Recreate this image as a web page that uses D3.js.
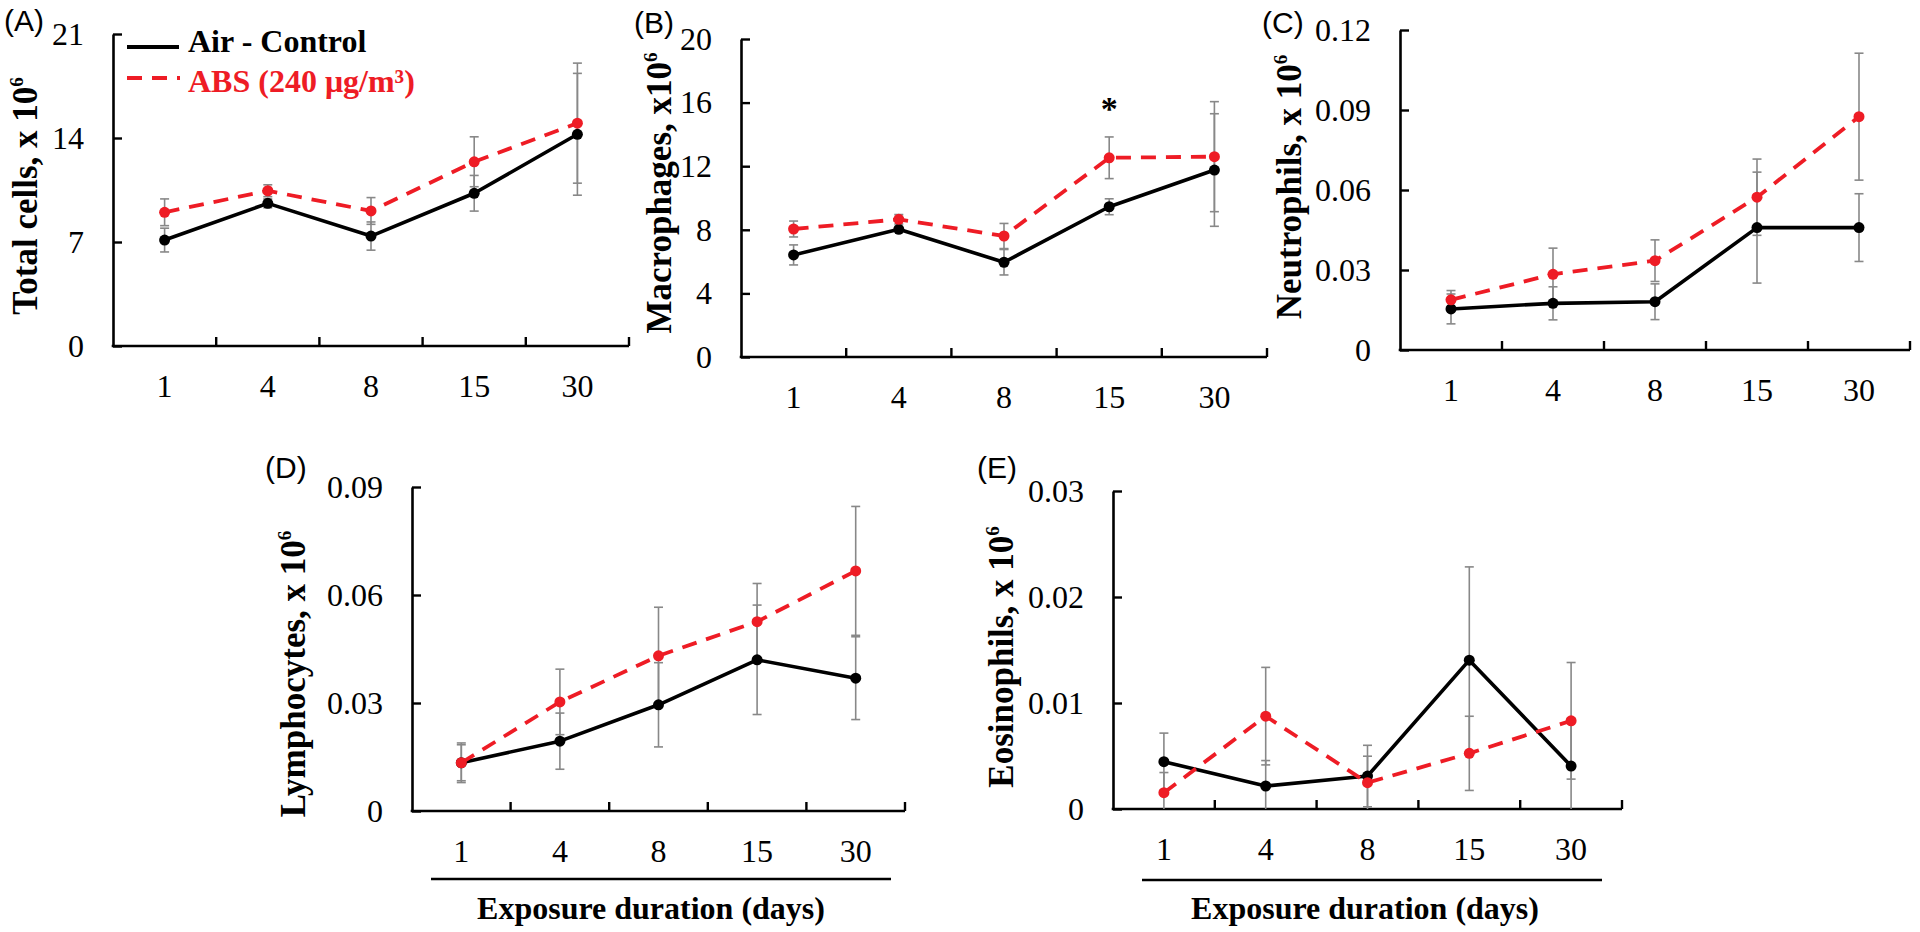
<!DOCTYPE html>
<html>
<head>
<meta charset="utf-8">
<script src="https://cdn.jsdelivr.net/npm/d3@7/dist/d3.min.js"></script>
<style>
  html, body { margin: 0; padding: 0; background: #fff; }
  svg { display: block; }
  .serif { font-family: 'Liberation Serif', 'Times New Roman', serif; }
  .sans { font-family: 'Liberation Sans', Arial, sans-serif; }
</style>
</head>
<body>
<svg id="chart" width="1920" height="932"></svg>
<script>
// ---------------- DATA ----------------
const categories = ["1", "4", "8", "15", "30"];
const seriesNames = ["Air - Control", "ABS (240 μg/m³)"];

const totalAir    = [7.13, 9.6, 7.4, 10.28, 14.25];
const totalAirErr = [0.8, 0.3, 0.95, 1.2, 4.1];
const totalAbs    = [9.0, 10.45, 9.09, 12.4, 15.0];
const totalAbsErr = [0.9, 0.4, 0.9, 1.68, 4.04];
const totalTicks  = [0, 7, 14, 21];

const macroAir    = [6.42, 8.03, 5.96, 9.45, 11.76];
const macroAirErr = [0.63, 0.15, 0.8, 0.5, 3.54];
const macroAbs    = [8.05, 8.66, 7.61, 12.53, 12.6];
const macroAbsErr = [0.5, 0.3, 0.79, 1.31, 3.46];
const macroTicks  = [0, 4, 8, 12, 16, 20];

const neutAir    = [0.0154, 0.0175, 0.0181, 0.0459, 0.0459];
const neutAirErr = [0.0056, 0.0062, 0.0067, 0.0208, 0.0127];
const neutAbs    = [0.0188, 0.0284, 0.0335, 0.0573, 0.0875];
const neutAbsErr = [0.0035, 0.0098, 0.0078, 0.0143, 0.0238];
const neutTicks  = [0, 0.03, 0.06, 0.09, 0.12];

const lymphAir    = [0.0134, 0.0194, 0.0295, 0.042, 0.0369];
const lymphAirErr = [0.005, 0.0078, 0.0117, 0.0152, 0.0115];
const lymphAbs    = [0.0134, 0.0303, 0.0431, 0.0526, 0.0667];
const lymphAbsErr = [0.0055, 0.0091, 0.0135, 0.0106, 0.0179];
const lymphTicks  = [0, 0.03, 0.06, 0.09];

const eosAir    = [0.00446, 0.00217, 0.00311, 0.01404, 0.00405];
const eosAirErr = [0.0027, 0.0024, 0.0029, 0.0088, 0.0045];
const eosAbs    = [0.00154, 0.00876, 0.00248, 0.00525, 0.00832];
const eosAbsErr = [0.0019, 0.0046, 0.0025, 0.0035, 0.0055];
const eosTicks  = [0, 0.01, 0.02, 0.03];

const xAxisTitle = "Exposure duration (days)";

// ---------------- LAYOUT ----------------
const panels = [
  { letter: "(A)", title: "Total cells, x 10", air: totalAir, airErr: totalAirErr, abs: totalAbs, absErr: totalAbsErr,
    ticks: totalTicks, x0: 113, x1: 629, y0: 346, y1: 34, letterX: 4, letterY: 20, titleX: 25, titleY: 196, legend: true },
  { letter: "(B)", title: "Macrophages, x10", air: macroAir, airErr: macroAirErr, abs: macroAbs, absErr: macroAbsErr,
    ticks: macroTicks, x0: 741, x1: 1267, y0: 357, y1: 39, letterX: 634, letterY: 22, titleX: 659, titleY: 193, star: 3 },
  { letter: "(C)", title: "Neutrophils, x 10", air: neutAir, airErr: neutAirErr, abs: neutAbs, absErr: neutAbsErr,
    ticks: neutTicks, x0: 1400, x1: 1910, y0: 350, y1: 30, letterX: 1262, letterY: 22, titleX: 1289, titleY: 187 },
  { letter: "(D)", title: "Lymphocytes, x 10", air: lymphAir, airErr: lymphAirErr, abs: lymphAbs, absErr: lymphAbsErr,
    ticks: lymphTicks, x0: 412, x1: 905, y0: 811, y1: 487, letterX: 265, letterY: 467, titleX: 293, titleY: 674,
    underline: [431, 891, 879], xTitleX: 651 },
  { letter: "(E)", title: "Eosinophils, x 10", air: eosAir, airErr: eosAirErr, abs: eosAbs, absErr: eosAbsErr,
    ticks: eosTicks, x0: 1113, x1: 1622, y0: 809, y1: 491, letterX: 977, letterY: 467, titleX: 1001, titleY: 657,
    underline: [1142, 1602, 880], xTitleX: 1365 }
];

const RED = "#ee1c25";
const ERR = "#888888";

const svg = d3.select("#chart");
svg.append("rect").attr("width", 1920).attr("height", 932).attr("fill", "#fff");

const fmt = d => d === 0 ? "0" : String(+d.toFixed(2));

panels.forEach(p => {
  const g = svg.append("g");
  const x = d3.scaleBand().domain(categories).range([p.x0, p.x1]).padding(0);
  const yMax = p.ticks[p.ticks.length - 1];
  const y = d3.scaleLinear().domain([0, yMax]).range([p.y0, p.y1]);
  const cx = c => x(c) + x.bandwidth() / 2;

  // y axis
  const yAxis = d3.axisLeft(y).tickValues(p.ticks).tickFormat(fmt)
    .tickSizeInner(-9).tickSizeOuter(0).tickPadding(29);
  const ya = g.append("g").attr("transform", `translate(${p.x0},0)`).call(yAxis)
    .attr("font-family", null).attr("font-size", null);
  ya.select(".domain").attr("stroke", "#000").attr("stroke-width", 2.6);
  ya.selectAll(".tick line").attr("stroke", "#000").attr("stroke-width", 2.4);
  ya.selectAll(".tick text").attr("class", "serif").style("font-size", "32px").attr("fill", "#000");

  // x axis
  const xAxis = d3.axisBottom(x).tickSize(0).tickPadding(28);
  const xa = g.append("g").attr("transform", `translate(0,${p.y0})`).call(xAxis)
    .attr("font-family", null).attr("font-size", null);
  xa.select(".domain").remove();
  xa.selectAll(".tick text").attr("class", "serif").style("font-size", "32px").attr("fill", "#000");
  g.append("line").attr("x1", p.x0 - 1.3).attr("x2", p.x1).attr("y1", p.y0).attr("y2", p.y0)
    .attr("stroke", "#000").attr("stroke-width", 2.6);
  g.selectAll(".xbound").data(categories).enter().append("line")
    .attr("x1", c => x(c) + x.bandwidth()).attr("x2", c => x(c) + x.bandwidth())
    .attr("y1", p.y0).attr("y2", p.y0 - 9)
    .attr("stroke", "#000").attr("stroke-width", 2.4);

  // error bars
  const drawErr = (vals, errs) => {
    const d = vals.map((v, i) => ({ c: categories[i], v, e: errs[i] }));
    const eg = g.append("g").attr("stroke", ERR).attr("stroke-width", 1.6);
    eg.selectAll(".w").data(d).enter().append("line")
      .attr("x1", k => cx(k.c)).attr("x2", k => cx(k.c))
      .attr("y1", k => y(k.v + k.e)).attr("y2", k => y(Math.max(0, k.v - k.e)));
    eg.selectAll(".ct").data(d).enter().append("line")
      .attr("x1", k => cx(k.c) - 4.5).attr("x2", k => cx(k.c) + 4.5)
      .attr("y1", k => y(k.v + k.e)).attr("y2", k => y(k.v + k.e));
    eg.selectAll(".cb").data(d.filter(k => k.v - k.e >= 0)).enter().append("line")
      .attr("x1", k => cx(k.c) - 4.5).attr("x2", k => cx(k.c) + 4.5)
      .attr("y1", k => y(k.v - k.e)).attr("y2", k => y(k.v - k.e));
  };
  drawErr(p.air, p.airErr);
  drawErr(p.abs, p.absErr);

  const line = d3.line().x((v, i) => cx(categories[i])).y(v => y(v));
  // air (black solid)
  g.append("path").datum(p.air).attr("d", line).attr("fill", "none")
    .attr("stroke", "#000").attr("stroke-width", 3.6).attr("stroke-linejoin", "round");
  g.selectAll(".mAir").data(p.air).enter().append("circle")
    .attr("cx", (v, i) => cx(categories[i])).attr("cy", v => y(v)).attr("r", 5.5).attr("fill", "#000");
  // abs (red dashed)
  g.append("path").datum(p.abs).attr("d", line).attr("fill", "none")
    .attr("stroke", RED).attr("stroke-width", 3.8).attr("stroke-dasharray", "15,10");
  g.selectAll(".mAbs").data(p.abs).enter().append("circle")
    .attr("cx", (v, i) => cx(categories[i])).attr("cy", v => y(v)).attr("r", 5.5).attr("fill", RED);

  // panel letter
  g.append("text").attr("class", "sans").attr("x", p.letterX).attr("y", p.letterY).attr("dy", "0.35em")
    .style("font-size", "30px").attr("fill", "#000").text(p.letter);

  // y title
  const t = g.append("text").attr("class", "serif")
    .attr("transform", `translate(${p.titleX},${p.titleY}) rotate(-90)`)
    .attr("text-anchor", "middle").attr("dy", "0.33em")
    .style("font-size", "35px").style("font-weight", "bold").attr("fill", "#000");
  t.append("tspan").text(p.title);
  t.append("tspan").style("font-size", "19px").attr("dy", -14).text("6");

  // significance star
  if (p.star !== undefined) {
    g.append("text").attr("class", "serif").attr("x", cx(categories[p.star])).attr("y", 120)
      .attr("text-anchor", "middle").style("font-weight", "bold")
      .style("font-size", "34px").attr("fill", "#000").text("*");
  }

  // x title with rule
  if (p.underline) {
    g.append("line").attr("x1", p.underline[0]).attr("x2", p.underline[1])
      .attr("y1", p.underline[2]).attr("y2", p.underline[2])
      .attr("stroke", "#000").attr("stroke-width", 2.6);
    g.append("text").attr("class", "serif").attr("x", p.xTitleX).attr("y", 919).attr("text-anchor", "middle")
      .style("font-size", "32px").style("font-weight", "bold").attr("fill", "#000")
      .text(xAxisTitle);
  }

  // legend
  if (p.legend) {
    const lg = g.append("g");
    lg.append("line").attr("x1", 127).attr("x2", 179).attr("y1", 47).attr("y2", 47)
      .attr("stroke", "#000").attr("stroke-width", 4);
    lg.append("text").attr("class", "serif").attr("x", 188).attr("y", 52).style("font-size", "32px")
      .style("font-weight", "bold").attr("fill", "#000").text(seriesNames[0]);
    lg.append("line").attr("x1", 127).attr("x2", 180).attr("y1", 78).attr("y2", 78)
      .attr("stroke", RED).attr("stroke-width", 4).attr("stroke-dasharray", "15,10");
    lg.append("text").attr("class", "serif").attr("x", 188).attr("y", 92).style("font-size", "32px")
      .style("font-weight", "bold").attr("fill", RED).text(seriesNames[1]);
  }
});
</script>
</body>
</html>
